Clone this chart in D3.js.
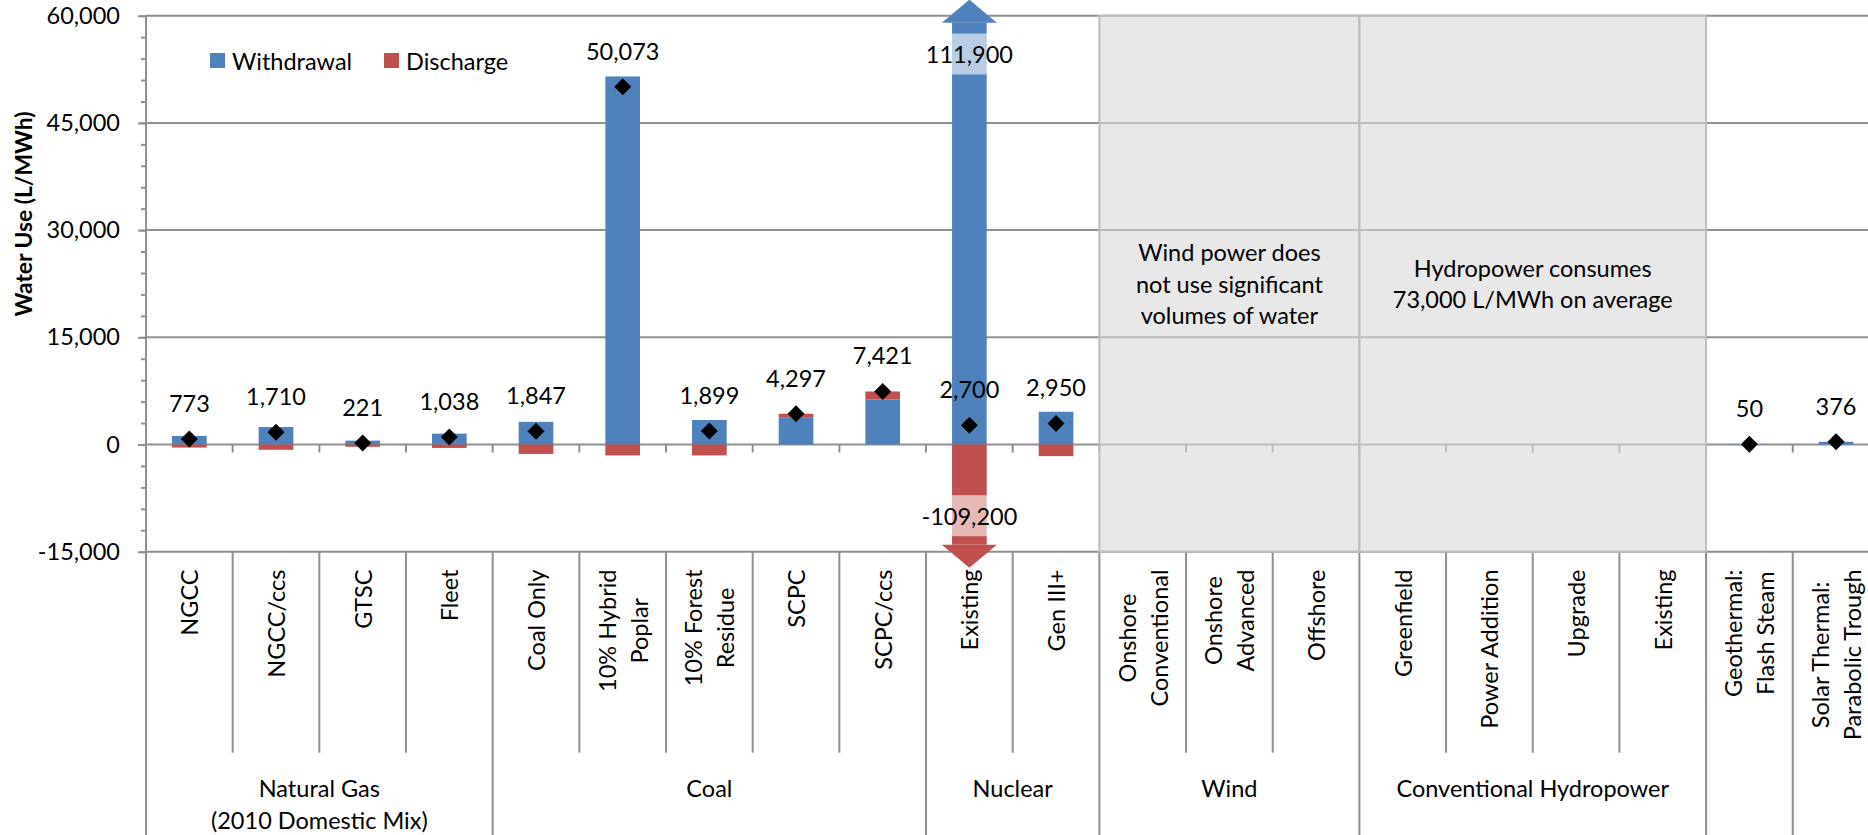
<!DOCTYPE html>
<html><head><meta charset="utf-8">
<script src="https://cdn.jsdelivr.net/npm/d3@7"></script>
<style>
html,body{margin:0;padding:0;background:#fff;overflow:hidden}
svg text{font-family:Lato,"Open Sans",sans-serif;fill:#000}
</style></head><body>
<svg id="chart" width="1868" height="835"></svg>
<script>
// ---------- DATA ----------
const categories = [
  ["NGCC"], ["NGCC/ccs"], ["GTSC"], ["Fleet"],
  ["Coal Only"], ["10% Hybrid", "Poplar"], ["10% Forest", "Residue"], ["SCPC"], ["SCPC/ccs"],
  ["Existing"], ["Gen III+"],
  ["Onshore", "Conventional"], ["Onshore", "Advanced"], ["Offshore"],
  ["Greenfield"], ["Power Addition"], ["Upgrade"], ["Existing"],
  ["Geothermal:", "Flash Steam"], ["Solar Thermal:", "Parabolic Trough"]
];
const groupNames = [["Natural Gas", "(2010 Domestic Mix)"], ["Coal"], ["Nuclear"], ["Wind"], ["Conventional Hydropower"], [], []];
const groupSizes = [4, 5, 2, 3, 4, 1, 1];
const withdrawal = [1200, 2450, 540, 1520, 3170, 51500, 3430, 3740, 6310, 111900, 4580, null, null, null, null, null, null, null, 50, 380];
const discharge  = [-430, -740, -320, -480, -1320, -1530, -1530, 560, 1110, -109200, -1630, null, null, null, null, null, null, null, 0, 0];
const consumption = [773, 1710, 221, 1038, 1847, 50073, 1899, 4297, 7421, 2700, 2950, null, null, null, null, null, null, null, 50, 376];
const yTicks = [-15000, 0, 15000, 30000, 45000, 60000];
const seriesNames = ["Withdrawal", "Discharge"];
const noteGroups = [3, 4];
const noteTexts = [["Wind power does", "not use significant", "volumes of water"], ["Hydropower consumes", "73,000 L/MWh on average"]];

// ---------- LAYOUT ----------
const W = 1868, H = 835;
const plotLeft = 146, catStep = 86.67, plotTop = 15.7, plotBottom = 551.7;
const plotRight = plotLeft + catStep * categories.length;
const colors = {Withdrawal: "#4f81bd", Discharge: "#c0504d"};
const gridColor = "#8f8f8f";
const FS = 23.5;

const svg = d3.select("#chart");
const y = d3.scaleLinear().domain([-15000, 60000]).range([plotBottom, plotTop]);
const x = d3.scaleBand().domain(d3.range(categories.length)).range([plotLeft, plotRight]).padding(0);
const barW = x.bandwidth() * 0.4;
const fmt = d3.formatLocale({decimal: ".", thousands: ",", grouping: [3], currency: ["$", ""], minus: "-"}).format(",");

// gridlines
svg.append("g").selectAll("line").data(yTicks).join("line")
  .attr("x1", plotLeft).attr("x2", plotRight)
  .attr("y1", d => y(d)).attr("y2", d => y(d))
  .attr("stroke", gridColor).attr("stroke-width", 2);

// y axis with minor ticks
const yAxisG = svg.append("g").attr("transform", `translate(${plotLeft},0)`)
  .call(d3.axisLeft(y).tickValues(d3.range(-15000, 60001, 3000)).tickSize(5).tickFormat(""));
yAxisG.select(".domain").remove();
yAxisG.selectAll("line").attr("stroke", gridColor).attr("stroke-width", 2);
const yMajor = svg.append("g").attr("transform", `translate(${plotLeft},0)`)
  .call(d3.axisLeft(y).tickValues(yTicks).tickSize(8).tickPadding(18).tickFormat(fmt));
yMajor.select(".domain").remove();
yMajor.selectAll("line").attr("stroke", gridColor).attr("stroke-width", 2);
yMajor.selectAll("text").attr("font-size", FS).attr("font-family", "Lato").attr("fill", "#000");

// axis line (extends through category label area)
svg.append("line").attr("x1", plotLeft).attr("x2", plotLeft).attr("y1", plotTop).attr("y2", H)
  .attr("stroke", gridColor).attr("stroke-width", 2);

// zero axis ticks at category boundaries
const boundaries = d3.range(1, categories.length + 1).map(k => plotLeft + k * catStep);
svg.append("g").selectAll("line").data(boundaries).join("line")
  .attr("x1", d => d).attr("x2", d => d).attr("y1", y(0)).attr("y2", y(0) + 8)
  .attr("stroke", gridColor).attr("stroke-width", 2);

// group boundaries
const groupStart = [];
let acc = 0;
groupSizes.forEach(s => { groupStart.push(acc); acc += s; });
const groupEnds = new Set(groupStart.map((s, i) => s + groupSizes[i]));
svg.append("g").selectAll("line").data(d3.range(1, categories.length + 1)).join("line")
  .attr("x1", k => plotLeft + k * catStep).attr("x2", k => plotLeft + k * catStep)
  .attr("y1", plotBottom).attr("y2", k => groupEnds.has(k) ? H : 752.7)
  .attr("stroke", gridColor).attr("stroke-width", 2);

// shaded note boxes
noteGroups.forEach((g, i) => {
  const x0 = x(groupStart[g]), x1 = x(groupStart[g] + groupSizes[g] - 1) + x.bandwidth();
  svg.append("rect").attr("x", x0).attr("y", y(60000)).attr("width", x1 - x0).attr("height", y(-15000) - y(60000))
    .attr("fill", "#d8d8d8").attr("fill-opacity", 0.6).attr("stroke", "#bdbdbd").attr("stroke-width", 2);
  const lines = noteTexts[i];
  const t = svg.append("text").attr("text-anchor", "middle").attr("font-size", FS)
    .attr("transform", `translate(${(x0 + x1) / 2},${(y(60000) + y(-15000)) / 2})`);
  lines.forEach((ln, j) => t.append("tspan").attr("x", 0).attr("y", (j - (lines.length - 1) / 2) * 31.5)
    .attr("dominant-baseline", "central").text(ln));
});

// stacked bars
const rows = categories.map((c, i) => ({i, Withdrawal: withdrawal[i] || 0, Discharge: discharge[i] || 0}));
const stacked = d3.stack().keys(seriesNames).offset(d3.stackOffsetDiverging)(rows);
const [dMin, dMax] = y.domain();
const inset = 7, headLen = 23, headHalf = 27.5;
const overflow = [];
stacked.forEach(series => {
  svg.append("g").attr("fill", colors[series.key]).selectAll("rect").data(series).join("rect")
    .attr("x", d => x(d.data.i) + (x.bandwidth() - barW) / 2)
    .attr("width", barW)
    .attr("y", d => {
      const top = Math.max(d[0], d[1]);
      return top > dMax ? y(dMax) + inset : y(top);
    })
    .attr("height", d => {
      const top = Math.max(d[0], d[1]), bot = Math.min(d[0], d[1]);
      const yt = top > dMax ? y(dMax) + inset : y(top);
      const yb = bot < dMin ? y(dMin) - inset : y(bot);
      return Math.max(0, yb - yt);
    });
  series.forEach(d => {
    const top = Math.max(d[0], d[1]), bot = Math.min(d[0], d[1]);
    const v = d.data[series.key];
    if (top > dMax) overflow.push({i: d.data.i, dir: "up", v, key: series.key});
    if (bot < dMin) overflow.push({i: d.data.i, dir: "down", v, key: series.key});
  });
});

// arrows and overflow labels
overflow.forEach(o => {
  const cx = x(o.i) + x.bandwidth() / 2;
  const base = o.dir === "up" ? y(dMax) + inset : y(dMin) - inset;
  const tip = o.dir === "up" ? base - headLen : base + headLen;
  svg.append("path").attr("d", `M${cx - headHalf},${base}L${cx + headHalf},${base}L${cx},${tip}Z`)
    .attr("fill", colors[o.key]);
  const ly = o.dir === "up" ? y(dMax) + 38.3 : y(dMin) - 36;
  const lbl = svg.append("text").attr("x", cx).attr("y", ly).attr("text-anchor", "middle")
    .attr("dominant-baseline", "central").attr("font-size", FS).text(fmt(o.v));
  const bw = lbl.node().getComputedTextLength() + 8;
  svg.insert("rect", () => lbl.node()).attr("x", cx - bw / 2).attr("y", ly - 20.5).attr("width", bw).attr("height", 41)
    .attr("fill", "#fff").attr("fill-opacity", 0.6);
});

// consumption diamonds and labels
const cons = consumption.map((v, i) => ({i, v})).filter(d => d.v !== null);
svg.append("g").selectAll("text").data(cons).join("text")
  .attr("x", d => x(d.i) + x.bandwidth() / 2).attr("y", d => y(d.v) - 36)
  .attr("text-anchor", "middle").attr("dominant-baseline", "central").attr("font-size", FS)
  .text(d => fmt(d.v));
const sym = d3.symbol().type(d3.symbolSquare).size(144);
svg.append("g").selectAll("path").data(cons).join("path")
  .attr("d", sym)
  .attr("transform", d => `translate(${x(d.i) + x.bandwidth() / 2},${y(d.v)}) rotate(45)`)
  .attr("fill", "#000");

// category labels (rotated, lines centered, block top-aligned)
categories.forEach((lines, i) => {
  const t = svg.append("text").attr("text-anchor", "middle").attr("font-size", FS)
    .attr("transform", `translate(${x(i) + x.bandwidth() / 2},569.5) rotate(-90)`);
  const spans = lines.map((ln, j) => t.append("tspan").attr("y", (j - (lines.length - 1) / 2) * 32)
    .attr("dominant-baseline", "central").text(ln));
  const maxLen = d3.max(spans, s => s.node().getComputedTextLength());
  spans.forEach(s => s.attr("x", -maxLen / 2));
});

// group labels
groupNames.forEach((lines, g) => {
  const cx = plotLeft + (groupStart[g] + groupSizes[g] / 2) * catStep;
  lines.forEach((ln, j) => svg.append("text").attr("x", cx).attr("y", 788 + j * 32)
    .attr("text-anchor", "middle").attr("dominant-baseline", "central").attr("font-size", FS).text(ln));
});

// y-axis title
svg.append("text").attr("transform", "translate(23.3,214) rotate(-90)")
  .attr("text-anchor", "middle").attr("dominant-baseline", "central")
  .attr("font-size", 22.8).attr("font-weight", "bold").text("Water Use (L/MWh)");

// legend
const legend = svg.append("g");
const legendX = [210, 384];
seriesNames.forEach((name, k) => {
  legend.append("rect").attr("x", legendX[k]).attr("y", 53).attr("width", 15).attr("height", 15).attr("fill", colors[name]);
  legend.append("text").attr("x", legendX[k] + 22).attr("y", 60.5).attr("dominant-baseline", "central")
    .attr("font-size", FS).text(name);
});
</script>
</body></html>
